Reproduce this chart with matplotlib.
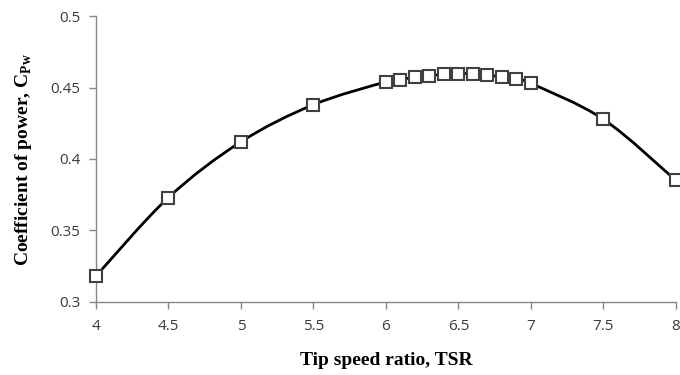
import matplotlib
matplotlib.use("Agg")
import matplotlib.pyplot as plt
from matplotlib.path import Path
from matplotlib.patches import PathPatch

plt.rcParams["mathtext.fontset"] = "custom"
plt.rcParams["mathtext.rm"] = "Liberation Serif"
plt.rcParams["mathtext.bf"] = "Liberation Serif:bold"

# tip speed ratio vs power coefficient
tsr = [4.0, 4.5, 5.0, 5.5, 6.0, 6.1, 6.2, 6.3, 6.4, 6.5, 6.6, 6.7, 6.8, 6.9, 7.0, 7.5, 8.0]
cp = [0.318, 0.373, 0.412, 0.438, 0.454, 0.4555, 0.4573, 0.4583, 0.4594, 0.4597,
      0.4597, 0.4585, 0.4576, 0.4557, 0.4529, 0.4278, 0.385]
xticks = [4, 4.5, 5, 5.5, 6, 6.5, 7, 7.5, 8]
yticks = [0.3, 0.35, 0.4, 0.45, 0.5]


def smooth_path(xs, ys, k=1 / 6):
    # Catmull-Rom style bezier through the points (like a spreadsheet "smoothed line")
    verts = [(xs[0], ys[0])]
    codes = [Path.MOVETO]
    n = len(xs)
    for i in range(n - 1):
        x0, y0 = (xs[i - 1], ys[i - 1]) if i > 0 else (xs[i], ys[i])
        x1, y1 = xs[i], ys[i]
        x2, y2 = xs[i + 1], ys[i + 1]
        x3, y3 = (xs[i + 2], ys[i + 2]) if i + 2 < n else (x2, y2)
        c1 = (x1 + (x2 - x0) * k, y1 + (y2 - y0) * k)
        c2 = (x2 - (x3 - x1) * k, y2 - (y3 - y1) * k)
        verts += [c1, c2, (x2, y2)]
        codes += [Path.CURVE4] * 3
    return Path(verts, codes)


fig = plt.figure(figsize=(6.8, 3.75), dpi=100)
ax = fig.add_axes([0.141, 0.195, 0.853, 0.762])

ax.add_patch(PathPatch(smooth_path(tsr, cp), facecolor="none", edgecolor="black",
                       lw=2.0, zorder=2))
ax.plot(tsr, cp, linestyle="none", marker="s", markersize=8.5,
        markerfacecolor="white", markeredgecolor="#404040", markeredgewidth=1.5,
        zorder=3, clip_on=False)

ax.set_xlim(4, 8)
ax.set_ylim(0.3, 0.5)
ax.set_xticks(xticks)
ax.set_xticklabels([f"{t:g}" for t in xticks])
ax.set_yticks(yticks)
ax.set_yticklabels([f"{t:g}" for t in yticks])

for side in ("top", "right"):
    ax.spines[side].set_visible(False)
for side in ("left", "bottom"):
    ax.spines[side].set_color("#868686")
    ax.spines[side].set_linewidth(1.0)

ax.tick_params(axis="both", direction="out", length=5, width=1.0, color="#868686",
               labelsize=11, labelcolor="#3a3a3a")
for lbl in ax.get_xticklabels() + ax.get_yticklabels():
    lbl.set_family("Open Sans")
ax.tick_params(axis="x", pad=7)
ax.tick_params(axis="y", pad=6)

ax.set_xlabel("Tip speed ratio, TSR", family="Liberation Serif", fontweight="bold",
              fontsize=14, labelpad=13)
ax.set_ylabel(r"Coefficient of power, C$_{\mathbf{Pw}}$", family="Liberation Serif",
              fontweight="bold", fontsize=14, labelpad=12)

fig.savefig("out.png", dpi=100)
